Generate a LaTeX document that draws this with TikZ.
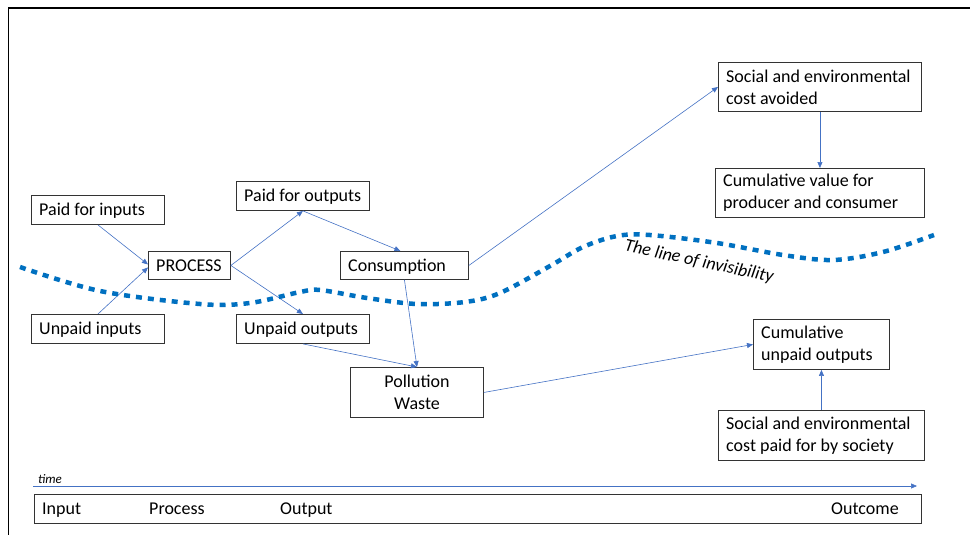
\documentclass[tikz,border=0pt]{standalone}
\usepackage{fontspec}
\setmainfont{Carlito}
\usetikzlibrary{arrows.meta}
\definecolor{arr}{HTML}{4472C4}
\definecolor{inv}{HTML}{0070C0}
\begin{document}
\begin{tikzpicture}[x=1pt,y=-1pt,
  box/.style={draw=black!80,line width=0.9pt,inner sep=0pt,anchor=north west},
  lbl/.style={font=\fontsize{18}{22}\selectfont,anchor=west,inner sep=0pt,text height=11.5pt,text depth=0pt},
  lbl2/.style={font=\fontsize{18}{22}\selectfont,anchor=west,inner sep=0pt,align=left},
  conn/.style={draw=arr,line width=0.6pt,-{Triangle[length=6pt,width=5pt]}}]
\useasboundingbox (0,0) rectangle (970,535);
% outer frame (top and left edges only visible)
\draw[line width=1.6pt] (975,8) -- (8.5,8) -- (8.5,540);
% boxes
\node[box,minimum width=133pt,minimum height=29pt] (pin) at (31,195) {};
\node[lbl] (pint) at ([xshift=8pt]pin.west) {Paid for inputs};
\node[box,minimum width=133pt,minimum height=29pt] (uin) at (31,314) {};
\node[lbl] (uint) at ([xshift=8pt]uin.west) {Unpaid inputs};
\node[box,minimum width=82pt,minimum height=28pt] (proc) at (148,251) {};
\node[lbl] (proct) at ([xshift=8pt]proc.west) {PROCESS};
\node[box,minimum width=133pt,minimum height=29pt] (pout) at (236,181) {};
\node[lbl] (poutt) at ([xshift=8pt]pout.west) {Paid for outputs};
\node[box,minimum width=133pt,minimum height=29pt] (uout) at (236,314) {};
\node[lbl] (uoutt) at ([xshift=8pt]uout.west) {Unpaid outputs};
\node[box,minimum width=128pt,minimum height=28pt] (cons) at (340,251) {};
\node[lbl] (const) at ([xshift=8pt]cons.west) {Consumption};
\node[box,minimum width=133pt,minimum height=50pt] (poll) at (350,367) {};
\node[font=\fontsize{18}{22}\selectfont,align=center,inner sep=0pt] (pollt) at (poll.center) {Pollution\\Waste};
\node[box,minimum width=203pt,minimum height=49pt] (avoid) at (718,62) {};
\node[lbl2] (avoidt) at ([xshift=8pt]avoid.west) {Social and environmental\\cost avoided};
\node[box,minimum width=209pt,minimum height=49pt] (cval) at (715,168) {};
\node[lbl2] (cvalt) at ([xshift=8pt]cval.west) {Cumulative value for\\producer and consumer};
\node[box,minimum width=136pt,minimum height=50pt] (cun) at (753,319) {};
\node[lbl2] (cunt) at ([xshift=8pt]cun.west) {Cumulative\\unpaid outputs};
\node[box,minimum width=206pt,minimum height=50pt] (soc) at (718,410) {};
\node[lbl2] (soct) at ([xshift=8pt]soc.west) {Social and environmental\\cost paid for by society};
% connectors
\draw[conn] (pin.south) -- ([yshift=1pt]proc.west);
\draw[conn] (uin.north) -- ([yshift=-2pt]proc.west);
\draw[conn] (proc.east) -- (pout.south);
\draw[conn] (proc.east) -- (uout.north);
\draw[conn] (pout.south) -- ([xshift=-4pt]cons.north);
\draw[conn] (cons.east) -- (avoid.west);
\draw[conn] (cons.south) -- (poll.north);
\draw[conn] (uout.south) -- (poll.north);
\draw[conn] (poll.east) -- (cun.west);
\draw[conn] (avoid.south) -- (cval.north);
\draw[conn] (soc.north) -- (cun.south);
% line of invisibility
\draw[inv,line width=4.5pt,dash pattern=on 6pt off 6pt]
  plot[smooth,tension=0.55] coordinates {(20,267) (100,291) (200,304) (250,303) (300,292) (320,290) (367,298) (417,304) (465,302) (500,293) (550,266) (583,247) (617,236) (650,235) (717,243) (783,255) (833,260) (883,252) (934,235)};
\node[font=\fontsize{18}{22}\selectfont\itshape,rotate=-12,inner sep=0pt] (inl) at (699,262) {The line of invisibility};
% timeline
\coordinate (t0) at (33,486);
\coordinate (t1) at (917,486);
\draw[conn] (t0) -- (t1);
\node[font=\fontsize{13}{15}\selectfont\itshape,anchor=base west,inner sep=0pt] (tm) at (38,483) {time};
\node[box,minimum width=887pt,minimum height=29pt] (tl) at (34,494) {};
\node[lbl] (tin) at ([xshift=8pt]tl.west) {Input};
\node[lbl] (tpr) at (149,508.5) {Process};
\node[lbl] (tou) at (280,508.5) {Output};
\node[lbl,anchor=east] (toc) at ([xshift=-23pt]tl.east) {Outcome};
\end{tikzpicture}
\end{document}
